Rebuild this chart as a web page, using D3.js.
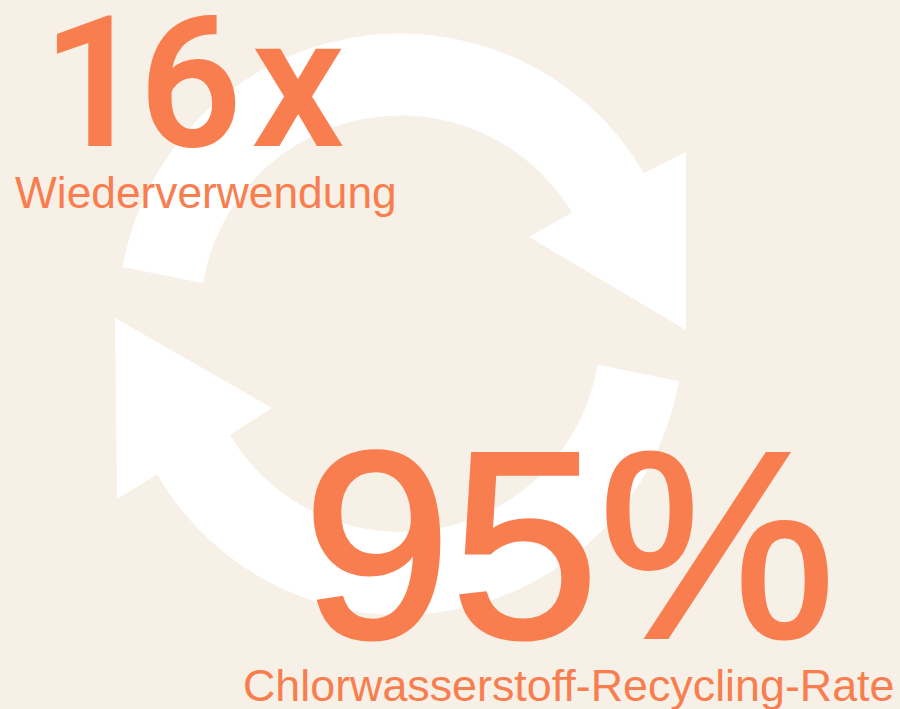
<!DOCTYPE html>
<html>
<head>
<meta charset="utf-8">
<script src="https://cdn.jsdelivr.net/npm/d3@7"></script>
<style>
    html, body { margin: 0; padding: 0; background: #f6f0e7; }
    svg { display: block; }
    text { font-family: "Liberation Sans", Arial, sans-serif; fill: #f97e4f; }
</style>
</head>
<body>
<div id="chart"></div>
<script>
//Values and captions
const statValues = ["16x", "95%"];
const statLabels = ["Wiederverwendung", "Chlorwasserstoff-Recycling-Rate"];

const width = 900;
const height = 709;

const svg = d3.select("#chart")
    .append("svg")
    .attr("width", width)
    .attr("height", height);

svg.append("rect")
    .attr("width", width)
    .attr("height", height)
    .attr("fill", "#f6f0e7");

//A function that draws one curved arrow of the cycle symbol
function arrowPath(a) {
    const p = d3.path();
    const angle = (pt, c) => Math.atan2(pt[1] - c[1], pt[0] - c[0]);
    p.moveTo(a.tailOuter[0], a.tailOuter[1]);
    p.arc(a.center[0], a.center[1], a.rOuter, angle(a.tailOuter, a.center), angle(a.headOuter, a.center), false);
    a.head.forEach(pt => p.lineTo(pt[0], pt[1]));
    p.lineTo(a.headInner[0], a.headInner[1]);
    p.arc(a.center[0], a.center[1], a.rInner, angle(a.headInner, a.center), angle(a.tailInner, a.center), true);
    p.closePath();
    return p.toString();
}

const arrows = [
    {
        center: [400.5, 315.5], rOuter: 282, rInner: 200,
        tailOuter: [123, 267], headOuter: [644, 173],
        head: [[686, 152], [686, 330], [529, 237]],
        headInner: [571, 213], tailInner: [202, 283]
    },
    {
        center: [401, 333], rOuter: 282, rInner: 199,
        tailOuter: [678, 381], headOuter: [158, 474],
        head: [[117, 499], [115, 318], [272, 408]],
        headInner: [231, 434], tailInner: [599, 365]
    }
];

svg.selectAll(".arrow")
    .data(arrows)
    .enter().append("path")
    .attr("class", "arrow")
    .attr("d", arrowPath)
    .attr("fill", "#ffffff");

//Big numbers: the Helvetica "1" has no foot, so 16x needs Roboto here
const bigFont = ["Roboto", "Liberation Sans"];
const bigWeight = [500, 400];
const bigX = [43, 303];
const bigY = [145, 637];
const bigSize = [180, 266];
const bigDx = ["0 -6 11", "0 0 0"];
const bigStroke = [2, 4];

svg.selectAll(".big")
    .data(statValues)
    .enter().append("text")
    .attr("class", "big")
    .attr("x", (d, i) => bigX[i])
    .attr("y", (d, i) => bigY[i])
    .attr("dx", (d, i) => bigDx[i])
    .attr("font-size", (d, i) => bigSize[i])
    .style("font-family", (d, i) => bigFont[i])
    .style("font-weight", (d, i) => bigWeight[i])
    .style("stroke", "#f97e4f")
    .style("stroke-width", (d, i) => bigStroke[i])
    .text(d => d);

//Captions under the numbers
const labelX = [15, 243];
const labelY = [208, 701];
const labelSize = [44.3, 44.8];

svg.selectAll(".caption")
    .data(statLabels)
    .enter().append("text")
    .attr("class", "caption")
    .attr("x", (d, i) => labelX[i])
    .attr("y", (d, i) => labelY[i])
    .attr("font-size", (d, i) => labelSize[i])
    .text(d => d);
</script>
</body>
</html>
